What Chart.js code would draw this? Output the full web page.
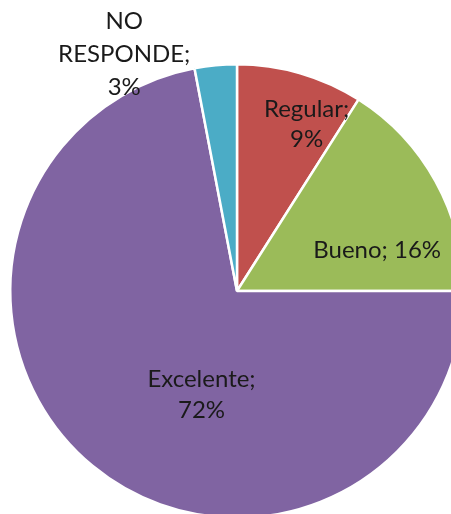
<!DOCTYPE html>
<html>
<head>
<meta charset="utf-8">
<script src="https://cdn.jsdelivr.net/npm/chart.js@4.4.1/dist/chart.umd.min.js"></script>
<style>
  html, body { margin: 0; padding: 0; background: #fff; }
  #wrap { width: 451px; height: 514px; overflow: hidden; position: relative; }
  #chart { position: absolute; left: 0; top: 0; }
</style>
</head>
<body>
<div id="wrap"><canvas id="chart" width="470" height="530"></canvas></div>
<script>
// chart data
const categories = ['Regular', 'Bueno', 'Excelente', 'NO RESPONDE'];
const percents = [9, 16, 72, 3];
const sliceColors = ['#C0504D', '#9BBB59', '#8064A2', '#4BACC6'];

// label lines, radial spot and nudges (px) from each slice's mid point
const labelLines = [['Regular;', '9%'], ['Bueno; 16%'], ['Excelente;', '72%'], ['NO', 'RESPONDE;', '3%']];
const labelRadius = [0.8, 0.66, 0.46, 1.16];
const labelShift = [[19, 7], [9, 31], [31, 23], [-88, 25]];
const labelLineHeight = [30, 30, 31, 33];

const sliceLabels = {
  id: 'sliceLabels',
  afterDatasetsDraw(chart) {
    const { ctx } = chart;
    const arcs = chart.getDatasetMeta(0).data;
    ctx.save();
    ctx.font = '24px Lato, sans-serif';
    ctx.fillStyle = '#1a1a1a';
    ctx.textAlign = 'center';
    ctx.textBaseline = 'middle';
    arcs.forEach((arc, i) => {
      const { x, y, startAngle, endAngle, outerRadius } = arc.getProps(['x', 'y', 'startAngle', 'endAngle', 'outerRadius'], true);
      const mid = (startAngle + endAngle) / 2;
      const r = outerRadius * labelRadius[i];
      const cx = x + Math.cos(mid) * r + labelShift[i][0];
      const cy = y + Math.sin(mid) * r + labelShift[i][1];
      const lines = labelLines[i];
      const lh = labelLineHeight[i];
      lines.forEach((t, k) => {
        ctx.fillText(t, cx, cy + (k - (lines.length - 1) / 2) * lh);
      });
    });
    ctx.restore();
  }
};

new Chart(document.getElementById('chart'), {
  type: 'pie',
  data: {
    labels: categories,
    datasets: [{
      data: percents,
      backgroundColor: sliceColors,
      borderColor: '#ffffff',
      borderWidth: 2.5
    }]
  },
  options: {
    responsive: false,
    animation: false,
    layout: { padding: { left: 9, top: 63, right: 5, bottom: 11 } },
    plugins: {
      legend: { display: false },
      tooltip: { enabled: false }
    }
  },
  plugins: [sliceLabels]
});
</script>
</body>
</html>
